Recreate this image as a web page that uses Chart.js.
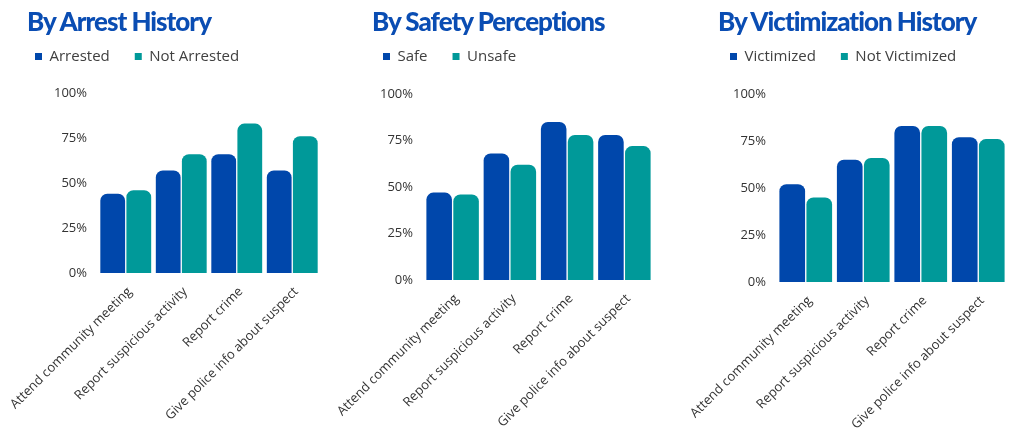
<!DOCTYPE html>
<html>
<head>
<meta charset="utf-8">
<script src="https://cdn.jsdelivr.net/npm/chart.js@4.4.1/dist/chart.umd.min.js"></script>
<style>
  body { margin: 0; background: #fff; }
  #wrap { position: relative; width: 1013px; height: 435px; overflow: hidden; }
  .panel { position: absolute; top: 0; height: 435px; }
  .title {
    position: absolute; top: 8px; white-space: nowrap;
    font-family: Lato, sans-serif; font-weight: 900; font-size: 26px; line-height: 26px;
    letter-spacing: -1px; color: #0a4db3;
  }
</style>
</head>
<body>
<div id="wrap">
  <div class="panel" style="left:0;width:322px"><canvas id="arrest" width="322" height="435"></canvas></div>
  <div class="panel" style="left:322px;width:353px"><canvas id="safety" width="353" height="435"></canvas></div>
  <div class="panel" style="left:675px;width:338px"><canvas id="victim" width="338" height="435"></canvas></div>
  <div class="title" style="left:27px">By Arrest History</div>
  <div class="title" style="left:372px">By Safety Perceptions</div>
  <div class="title" style="left:718px">By Victimization History</div>
</div>
<script>
var categorias = ['Attend community meeting', 'Report suspicious activity', 'Report crime', 'Give police info about suspect'];

var arrested = [44, 57, 66, 57];
var notArrested = [46, 66, 83, 76];

var safe = [47, 68, 85, 78];
var unsafe = [46, 62, 78, 72];

var victimized = [52, 65, 83, 77];
var notVictimized = [45, 66, 83, 76];

var azul = '#0047ab';
var verde = '#009999';

// extra space under the legend
function legendGap(h) {
    return {
        id: 'legendGap',
        beforeInit(chart) {
            const fit = chart.legend.fit;
            chart.legend.fit = function () {
                fit.call(this);
                this.height = h;
            };
        }
    };
}

function grafico(id, nombres, serieA, serieB, lay) {
    const data = {
        labels: categorias,
        datasets: [{
            label: nombres[0],
            data: serieA,
            backgroundColor: azul,
            borderRadius: { topLeft: 7, topRight: 7 },
            borderSkipped: 'start'
        }, {
            label: nombres[1],
            data: serieB,
            backgroundColor: verde,
            borderRadius: { topLeft: 7, topRight: 7 },
            borderSkipped: 'start'
        }]
    };

    const config = {
        type: 'bar',
        data: data,
        plugins: [legendGap(lay.legendH)],
        options: {
            responsive: false,
            animation: false,
            categoryPercentage: 0.94,
            barPercentage: 0.95,
            layout: {
                padding: { left: lay.padL, right: lay.padR, top: 24, bottom: 0 }
            },
            scales: {
                x: {
                    grid: { display: false },
                    border: { display: false },
                    ticks: {
                        autoSkip: false,
                        minRotation: 45,
                        maxRotation: 45,
                        labelOffset: 4,
                        color: '#333',
                        font: { family: 'Open Sans', size: 13 }
                    },
                    afterFit: function (s) {
                        s.height = lay.xH;
                        s.paddingLeft = 0;
                        s.paddingRight = 0;
                    }
                },
                y: {
                    min: 0,
                    max: 100,
                    grid: { display: false },
                    border: { display: false },
                    ticks: {
                        stepSize: 25,
                        color: '#333',
                        font: { family: 'Open Sans', size: 13 },
                        callback: function (v) { return v + '%'; }
                    },
                    afterFit: function (s) { s.width = lay.yW; }
                }
            },
            plugins: {
                tooltip: { enabled: false },
                legend: {
                    position: 'top',
                    align: 'start',
                    labels: {
                        boxWidth: 7,
                        boxHeight: 7,
                        padding: 25,
                        color: '#404040',
                        font: { family: 'Open Sans', size: 15 }
                    }
                }
            }
        }
    };

    return new Chart(document.getElementById(id), config);
}

grafico('arrest', ['Arrested', 'Not Arrested'], arrested, notArrested,
    { padL: 10, padR: 2, yW: 88, xH: 162, legendH: 69 });
grafico('safety', ['Safe', 'Unsafe'], safe, unsafe,
    { padL: 36, padR: 22, yW: 66, xH: 155, legendH: 70 });
grafico('victim', ['Victimized', 'Not Victimized'], victimized, notVictimized,
    { padL: 30, padR: 6, yW: 72, xH: 153, legendH: 70 });
</script>
</body>
</html>
